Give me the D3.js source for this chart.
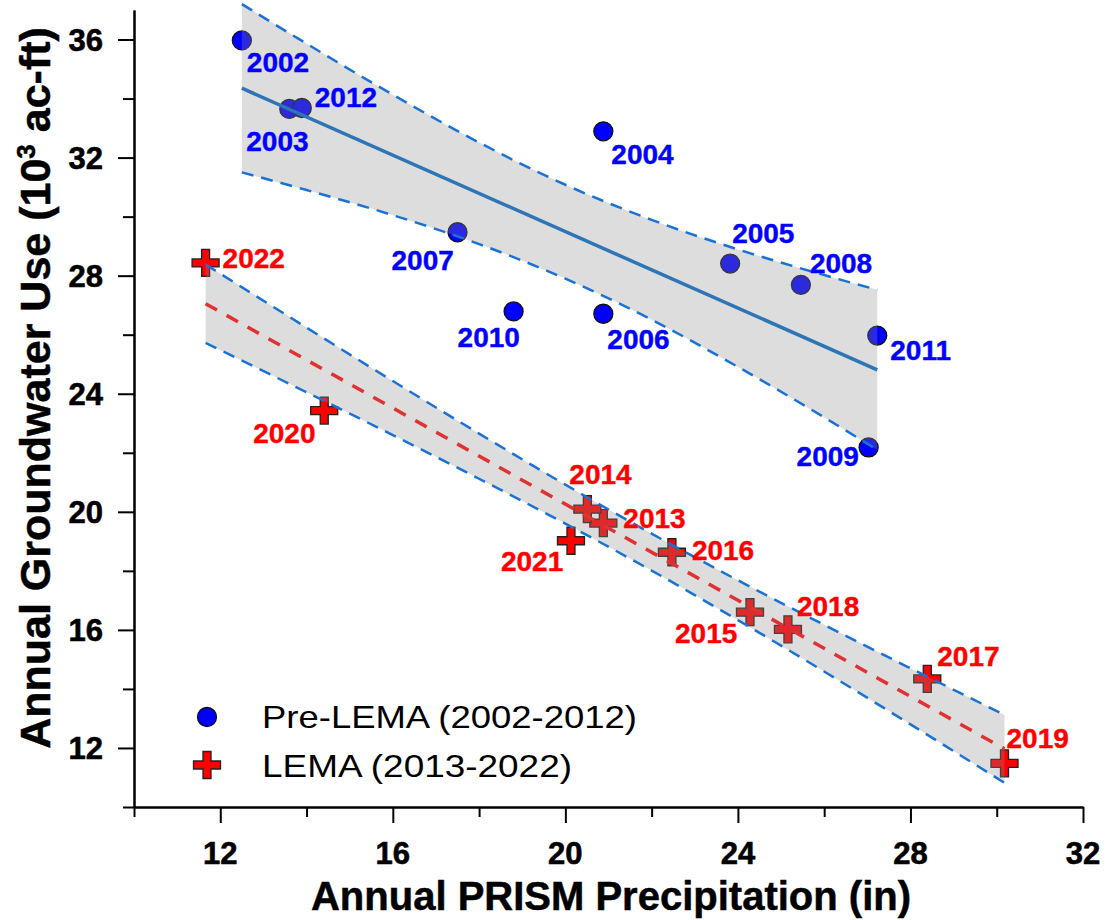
<!DOCTYPE html>
<html>
<head>
<meta charset="utf-8">
<script src="https://cdn.jsdelivr.net/npm/d3@7"></script>
<style>
  body { margin: 0; background: #fff; }
  text { font-family: Arial, "Liberation Sans", sans-serif; }
</style>
</head>
<body>
<div id="chart"></div>
<script>
// Pre-LEMA points (2002-2012)
const preYears  = [2002, 2003, 2004, 2005, 2006, 2007, 2008, 2009, 2010, 2011, 2012];
const prePrecip = [12.50, 13.60, 20.88, 23.82, 20.88, 17.50, 25.46, 27.03, 18.80, 27.23, 13.89];
const preGw     = [35.97, 33.65, 32.89, 28.41, 26.71, 29.47, 27.69, 22.18, 26.79, 25.97, 33.68];

// LEMA points (2013-2022)
const lemaYears  = [2013, 2014, 2015, 2016, 2017, 2018, 2019, 2020, 2021, 2022];
const lemaPrecip = [20.88, 20.51, 24.28, 22.47, 28.39, 25.16, 30.18, 14.41, 20.13, 11.66];
const lemaGw     = [19.62, 20.09, 16.60, 18.63, 14.34, 16.02, 11.48, 23.43, 19.02, 28.43];

// fitted lines
const preFitX  = [12.5, 27.23];
const preFitY  = [34.35, 24.81];
const lemaFitX = [11.66, 30.18];
const lemaFitY = [27.05, 11.97];

// confidence bands
const preBandX     = [12.5, 14, 16, 18, 20, 22, 24, 26, 27.23];
const preBandUpper = [37.20, 35.86, 34.13, 32.51, 31.08, 29.89, 28.89, 28.02, 27.52];
const preBandLower = [31.50, 30.90, 30.05, 29.07, 27.90, 26.51, 24.91, 23.20, 22.10];

const lemaBandX     = [11.66, 14, 16, 18, 20, 22, 24, 26, 28, 30.18];
const lemaBandUpper = [28.38, 26.24, 24.43, 22.65, 20.92, 19.26, 17.68, 16.17, 14.70, 13.12];
const lemaBandLower = [25.72, 24.05, 22.60, 21.12, 19.60, 18.01, 16.33, 14.59, 12.80, 10.82];

// axis ticks
const xMajor = [12, 16, 20, 24, 28, 32];
const xMinor = [10, 14, 18, 22, 26, 30];
const yMajor = [12, 16, 20, 24, 28, 32, 36];
const yMinor = [10, 14, 18, 22, 26, 30, 34];

// label placement, px offset from the marker (left edge, baseline)
const labelOffset = {
  2002: [5, 32],   2003: [-43, 42], 2004: [8, 33],   2005: [2, -21],
  2006: [4, 35],   2007: [-66, 38], 2008: [9, -12],  2009: [-72, 19],
  2010: [-56, 36], 2011: [13, 24],  2012: [13, -1],
  2013: [20, 5],   2014: [-18, -25], 2015: [-75, 31], 2016: [20, 8],
  2017: [10, -13], 2018: [9, -13],  2019: [2, -15],  2020: [-71, 32],
  2021: [-70, 30], 2022: [17, 5]
};

const width = 1109;
const height = 920;

const svg = d3.select("#chart")
  .append("svg")
  .attr("width", width)
  .attr("height", height);

const x = d3.scaleLinear().domain([10, 32]).range([134, 1083]);
const y = d3.scaleLinear().domain([10, 37]).range([807, 10]);

const preData = preYears.map((yr, i) => ({year: yr, x: prePrecip[i], y: preGw[i]}));
const lemaData = lemaYears.map((yr, i) => ({year: yr, x: lemaPrecip[i], y: lemaGw[i]}));

// --- axes (lines only, labels drawn below)
const axisX = svg.append("g").attr("transform", "translate(0," + y(10) + ")");
axisX.call(d3.axisBottom(x).tickValues(xMajor).tickSize(16).tickSizeOuter(0).tickFormat(""));
axisX.append("g").call(d3.axisBottom(x).tickValues(xMinor).tickSize(10).tickSizeOuter(0).tickFormat(""));

const axisY = svg.append("g").attr("transform", "translate(" + x(10) + ",0)");
axisY.call(d3.axisLeft(y).tickValues(yMajor).tickSize(16).tickSizeOuter(0).tickFormat(""));
axisY.append("g").call(d3.axisLeft(y).tickValues(yMinor).tickSize(11).tickSizeOuter(0).tickFormat(""));

svg.selectAll(".domain").attr("stroke", "#000").attr("stroke-width", 2);
svg.selectAll(".tick line").attr("stroke", "#000").attr("stroke-width", 2);

// tick labels
svg.append("g")
  .selectAll("text")
  .data(xMajor)
  .enter()
  .append("text")
  .attr("x", d => x(d))
  .attr("y", y(10) + 57)
  .attr("text-anchor", "middle")
  .attr("font-size", 31)
  .attr("font-weight", "bold")
  .attr("stroke", "#000")
  .attr("stroke-width", 0.6)
  .text(d => d);

svg.append("g")
  .selectAll("text")
  .data(yMajor)
  .enter()
  .append("text")
  .attr("x", x(10) - 31)
  .attr("y", d => y(d) + 11.5)
  .attr("text-anchor", "end")
  .attr("font-size", 31)
  .attr("font-weight", "bold")
  .attr("stroke", "#000")
  .attr("stroke-width", 0.6)
  .text(d => d);

// axis titles
svg.append("text")
  .attr("x", 611)
  .attr("y", 910)
  .attr("text-anchor", "middle")
  .attr("font-size", 40)
  .attr("font-weight", "bold")
  .attr("stroke", "#000")
  .attr("stroke-width", 0.5)
  .text("Annual PRISM Precipitation (in)");

const yTitle = svg.append("text")
  .attr("transform", "translate(50,388) rotate(-90)")
  .attr("text-anchor", "middle")
  .attr("font-size", 43)
  .attr("font-weight", "bold")
  .attr("stroke", "#000")
  .attr("stroke-width", 0.5);
yTitle.append("tspan").text("Annual Groundwater Use (10");
yTitle.append("tspan").attr("dy", -15).attr("font-size", 26).text("3");
yTitle.append("tspan").attr("dy", 15).text(" ac-ft)");

// --- markers
function drawCross(g, cx, cy) {
  const a = 13.5, t = 4;
  const p = [[-t,-a],[t,-a],[t,-t],[a,-t],[a,t],[t,t],[t,a],[-t,a],[-t,t],[-a,t],[-a,-t],[-t,-t]];
  g.append("path")
    .attr("d", "M" + p.map(q => (cx + q[0]) + "," + (cy + q[1])).join("L") + "Z")
    .attr("fill", "#ff0000")
    .attr("stroke", "#222")
    .attr("stroke-width", 1.3);
}

const pts = svg.append("g");
pts.selectAll("circle")
  .data(preData)
  .enter()
  .append("circle")
  .attr("cx", d => x(d.x))
  .attr("cy", d => y(d.y))
  .attr("r", 9.5)
  .attr("fill", "#0000ff")
  .attr("stroke", "#111")
  .attr("stroke-width", 1.3);

lemaData.forEach(d => drawCross(pts, x(d.x), y(d.y)));

// --- bands
function drawBand(bx, up, lo) {
  const rows = bx.map((v, i) => ({x: v, u: up[i], l: lo[i]}));
  const area = d3.area()
    .x(d => x(d.x))
    .y0(d => y(d.l))
    .y1(d => y(d.u))
    .curve(d3.curveMonotoneX);
  svg.append("path")
    .datum(rows)
    .attr("d", area)
    .attr("fill", "#909090")
    .attr("fill-opacity", 0.3)
    .attr("stroke", "none");

  ["u", "l"].forEach(k => {
    svg.append("path")
      .datum(rows)
      .attr("d", d3.line().x(d => x(d.x)).y(d => y(d[k])).curve(d3.curveMonotoneX))
      .attr("fill", "none")
      .attr("stroke", "#1a73d4")
      .attr("stroke-width", 2.5)
      .attr("stroke-dasharray", "12,8");
  });
}

drawBand(preBandX, preBandUpper, preBandLower);
drawBand(lemaBandX, lemaBandUpper, lemaBandLower);

// --- fitted lines
svg.append("path")
  .datum(preFitX.map((v, i) => [v, preFitY[i]]))
  .attr("d", d3.line().x(d => x(d[0])).y(d => y(d[1])))
  .attr("fill", "none")
  .attr("stroke", "#2e75b6")
  .attr("stroke-width", 3.5);

svg.append("path")
  .datum(lemaFitX.map((v, i) => [v, lemaFitY[i]]))
  .attr("d", d3.line().x(d => x(d[0])).y(d => y(d[1])))
  .attr("fill", "none")
  .attr("stroke", "#e03232")
  .attr("stroke-width", 3.5)
  .attr("stroke-dasharray", "13,11");

// --- year labels
function drawLabels(data, color) {
  svg.append("g")
    .selectAll("text")
    .data(data)
    .enter()
    .append("text")
    .attr("x", d => x(d.x) + labelOffset[d.year][0])
    .attr("y", d => y(d.y) + labelOffset[d.year][1])
    .attr("fill", color)
    .attr("stroke", color)
    .attr("stroke-width", 0.4)
    .attr("font-size", 28)
    .attr("font-weight", "bold")
    .text(d => d.year);
}
drawLabels(preData, "#0000ff");
drawLabels(lemaData, "#ff0000");

// --- legend
const legend = svg.append("g");
legend.append("circle")
  .attr("cx", 207).attr("cy", 717).attr("r", 9.5)
  .attr("fill", "#0000ff").attr("stroke", "#111").attr("stroke-width", 1.3);
drawCross(legend, 207, 765);
legend.append("text").attr("x", 262).attr("y", 728)
  .attr("font-size", 32)
  .attr("textLength", 375).attr("lengthAdjust", "spacingAndGlyphs")
  .text("Pre-LEMA (2002-2012)");
legend.append("text").attr("x", 262).attr("y", 777)
  .attr("font-size", 32)
  .attr("textLength", 310).attr("lengthAdjust", "spacingAndGlyphs")
  .text("LEMA (2013-2022)");
</script>
</body>
</html>
